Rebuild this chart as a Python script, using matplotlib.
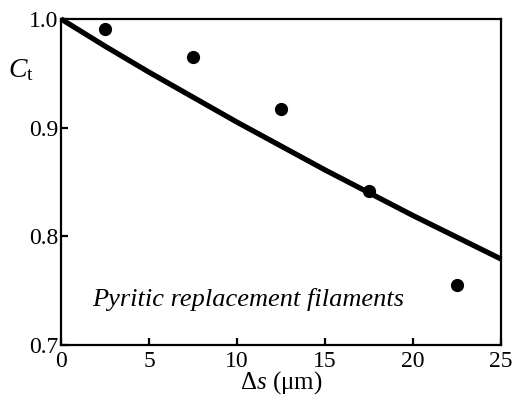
import numpy as np
import matplotlib.pyplot as plt

plt.rcParams['font.family'] = ['Liberation Serif', 'DejaVu Serif']
plt.rcParams['mathtext.fontset'] = 'custom'
plt.rcParams['mathtext.rm'] = 'Liberation Serif'
plt.rcParams['mathtext.it'] = 'Liberation Serif:italic'

# measured points
ds_pts = [2.5, 7.5, 12.5, 17.5, 22.5]
ct_pts = [0.991, 0.965, 0.917, 0.842, 0.755]

# model curve
ds_fit = [0, 2.5, 5, 7.5, 10, 12.5, 15, 17.5, 20, 22.5, 25]
ct_fit = [1.0, 0.975, 0.951, 0.928, 0.905, 0.883, 0.861, 0.840, 0.819, 0.799, 0.779]

fig = plt.figure(figsize=(5.12, 4.03), dpi=100)
ax = fig.add_axes([0.119, 0.144, 0.860, 0.809])

ax.plot(ds_fit, ct_fit, 'k-', lw=3.8, solid_capstyle='butt', clip_on=False)
ax.plot(ds_pts, ct_pts, 'ko', ms=8.5)

ax.set_xlim(0, 25)
ax.set_ylim(0.7, 1.0)
ax.set_xticks([0, 5, 10, 15, 20, 25])
ax.set_yticks([0.7, 0.8, 0.9, 1.0])
ax.set_yticklabels(['0.7', '0.8', '0.9', '1.0'])

for s in ax.spines.values():
    s.set_linewidth(1.6)
ax.tick_params(direction='in', length=5, width=1.6, labelsize=17, pad=2)
ax.tick_params(axis='x', pad=4)

ax.set_xlabel(r'$\Delta\mathit{s}$ (μm)', fontsize=18, labelpad=-2)
ax.text(-0.12, 0.843, r'$C_{\mathrm{t}}$', transform=ax.transAxes, fontsize=20,
        ha='left', va='center')
ax.text(1.75, 0.7415, 'Pyritic replacement filaments', fontsize=19,
        style='italic', ha='left', va='center')

fig.savefig('out.png', dpi=100)
